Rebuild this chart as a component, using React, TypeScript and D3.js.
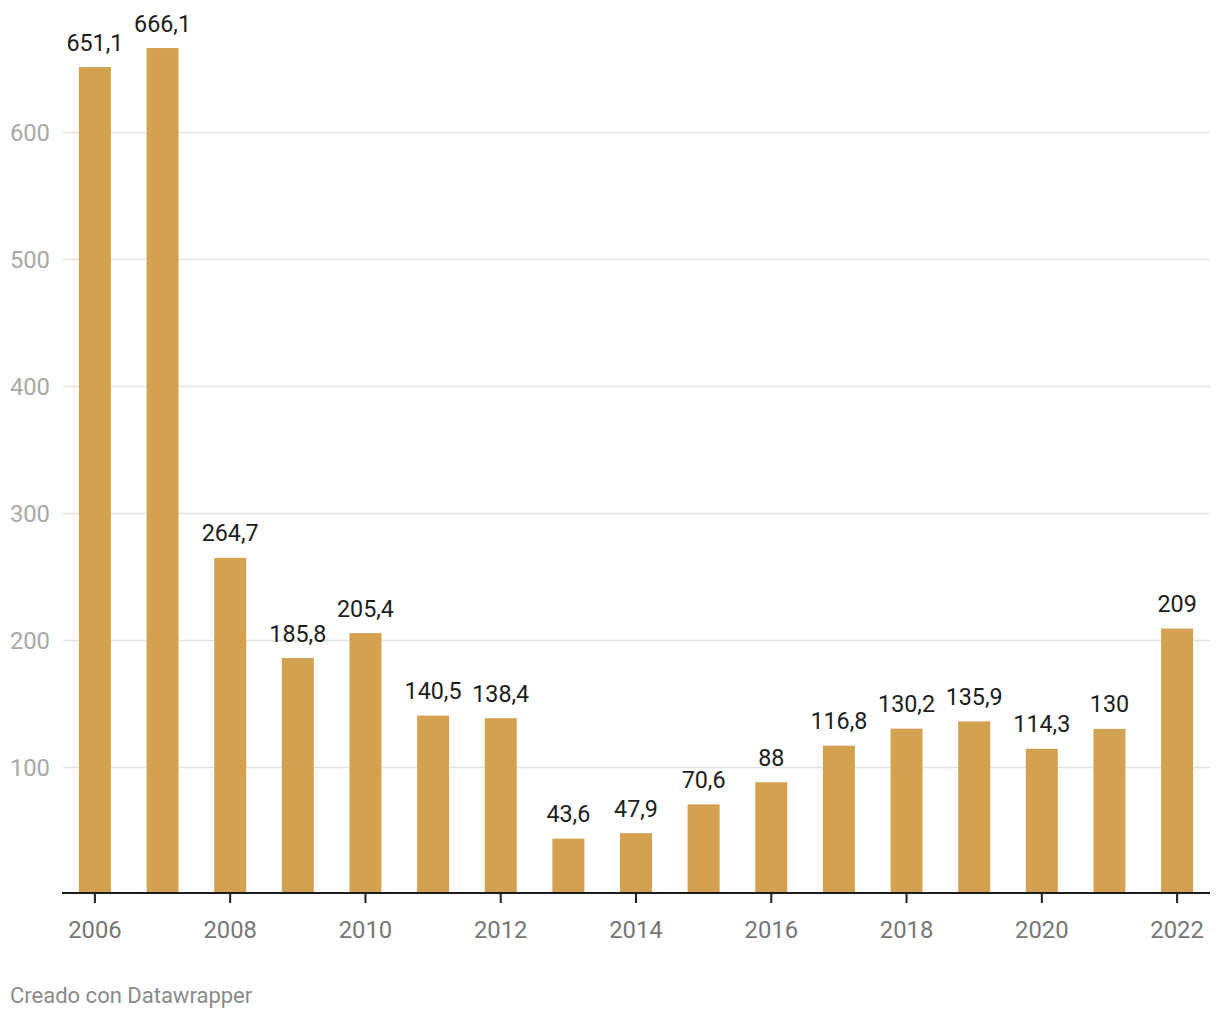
import React from "react";
import * as d3 from "d3";

const years: number[] = [2006, 2007, 2008, 2009, 2010, 2011, 2012, 2013, 2014, 2015, 2016, 2017, 2018, 2019, 2020, 2021, 2022];
const values: number[] = [651.1, 666.1, 264.7, 185.8, 205.4, 140.5, 138.4, 43.6, 47.9, 70.6, 88, 116.8, 130.2, 135.9, 114.3, 130, 209];
const yTicks: number[] = [100, 200, 300, 400, 500, 600];
const xTickYears: number[] = [2006, 2008, 2010, 2012, 2014, 2016, 2018, 2020, 2022];
const footer = "Creado con Datawrapper";

const W = 1220;
const H = 1020;
const FONT = "Roboto, 'Noto Sans', sans-serif";

const fmt = (v: number) => String(v).replace(".", ",");

export default function App() {
  const x = d3
    .scaleBand<number>()
    .domain(years)
    .range([62, 1210])
    .paddingInner(0.527)
    .paddingOuter(0.25);
  const y = d3.scaleLinear().domain([0, 600]).range([894, 132]);

  return (
    <svg
      width={W}
      height={H}
      style={{ position: "absolute", left: 0, top: 0, background: "#fff" }}
      fontFamily={FONT}
    >
      {yTicks.map((t) => (
        <g key={t}>
          <line x1={63} x2={1210} y1={Math.round(y(t)) + 0.5} y2={Math.round(y(t)) + 0.5} stroke="#e3e3e3" strokeWidth={1.5} />
          <text x={50} y={y(t) + 8.5} textAnchor="end" fontSize={23.8} fill="#a8a8a8">
            {t}
          </text>
        </g>
      ))}
      {years.map((yr, i) => (
        <g key={yr}>
          <rect
            x={x(yr)!}
            y={y(values[i])}
            width={x.bandwidth()}
            height={y(0) - y(values[i])}
            fill="#d3a250"
          />
          <text
            x={x(yr)! + x.bandwidth() / 2}
            y={y(values[i]) - 16.5}
            textAnchor="middle"
            fontSize={23.3}
            fill="#1d1d1d"
          >
            {fmt(values[i])}
          </text>
        </g>
      ))}
      <line x1={62} x2={1210} y1={893} y2={893} stroke="#1d1d1d" strokeWidth={2} />
      {xTickYears.map((yr) => {
        const cx = x(yr)! + x.bandwidth() / 2;
        return (
          <g key={yr}>
            <line x1={cx} x2={cx} y1={893} y2={903} stroke="#1d1d1d" strokeWidth={2} />
            <text x={cx} y={938} textAnchor="middle" fontSize={23.8} fill="#777">
              {yr}
            </text>
          </g>
        );
      })}
      <text x={10} y={1003} fontSize={22} fill="#8a8a8a">
        {footer}
      </text>
    </svg>
  );
}
